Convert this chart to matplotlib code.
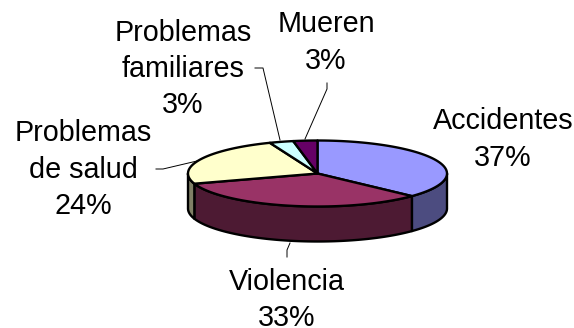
#!/usr/bin/env python3
import numpy as np
import matplotlib
matplotlib.use('Agg')
import matplotlib.pyplot as plt
from matplotlib.patches import Polygon

labels = ['Accidentes', 'Violencia', 'Problemas\nde salud', 'Problemas\nfamiliares', 'Mueren']
shares = [37, 33, 24, 3, 3]
top_colors = ['#9999FF', '#993366', '#FFFFCC', '#CCFFFF', '#660066']
side_colors = ['#4C4C80', '#4D1A33', '#808066', '#668080', '#330033']

# where each label sits, and the leader line back to the pie (None = no leader)
label_pos = [(503, 139.5), (287, 300), (83, 169.5), (183, 69), (326, 42.5)]
leaders = [None,
           [(287, 257), (287, 250), (290, 243)],
           [(156, 169), (163, 169), (197, 161)],
           [(255, 68), (263, 68), (280, 140)],
           [(327, 83), (327, 89), (305, 139)]]

CX, CY = 317.5, 173.5
RX, RY = 129.5, 33
DEPTH = 35
EDGE = 1.7


def rim(a0, a1, n=80):
    # angles run clockwise from 12 o'clock, in degrees
    t = np.radians(np.linspace(a0, a1, n))
    return np.column_stack([CX + RX * np.sin(t), CY - RY * np.cos(t)])


plt.rcParams['font.family'] = ['Liberation Sans', 'DejaVu Sans']
fig = plt.figure(figsize=(5.74, 3.28), dpi=100)
ax = fig.add_axes([0, 0, 1, 1])
ax.set_xlim(0, 574)
ax.set_ylim(328, 0)
ax.axis('off')

edges = np.cumsum([0] + shares) * 3.6

# side wall first, only the front half of the rim shows
for i in range(len(shares)):
    a0, a1 = max(edges[i], 90), min(edges[i + 1], 270)
    if a0 >= a1:
        continue
    upper = rim(a0, a1)
    lower = upper[::-1] + [0, DEPTH]
    ax.add_patch(Polygon(np.vstack([upper, lower]), closed=True, fc=side_colors[i],
                         ec='black', lw=EDGE, joinstyle='round'))

for i in range(len(shares)):
    pts = np.vstack([[(CX, CY)], rim(edges[i], edges[i + 1])])
    ax.add_patch(Polygon(pts, closed=True, fc=top_colors[i], ec='black', lw=EDGE,
                         joinstyle='round'))

for name, share, pos, leader in zip(labels, shares, label_pos, leaders):
    ax.text(pos[0], pos[1], f'{name}\n{share}%', ha='center', va='center',
            fontsize=20.7, linespacing=1.37, color='black')
    if leader:
        xs, ys = zip(*leader)
        ax.plot(xs, ys, color='black', lw=0.7)

fig.savefig('out.png', dpi=100)
